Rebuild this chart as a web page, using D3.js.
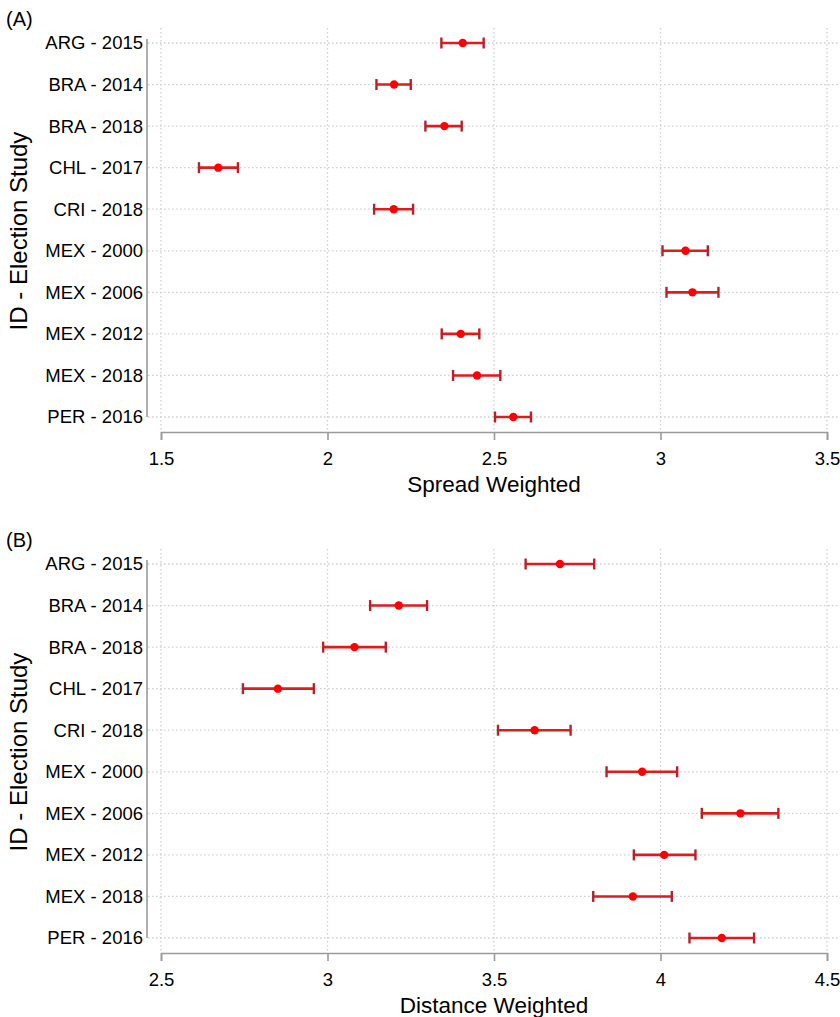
<!DOCTYPE html>
<html>
<head>
<meta charset="utf-8">
<script src="https://cdn.jsdelivr.net/npm/d3@7"></script>
<style>
  body { margin: 0; background: #fff; }
  svg { font-family: "Liberation Sans", Arial, sans-serif; }
</style>
</head>
<body>
<svg width="840" height="1017"></svg>
<script>
// election studies, top to bottom
const studies = ["ARG - 2015", "BRA - 2014", "BRA - 2018", "CHL - 2017", "CRI - 2018",
                 "MEX - 2000", "MEX - 2006", "MEX - 2012", "MEX - 2018", "PER - 2016"];

// panel A: spread weighted (estimate, lower, upper)
const spreadEst = [2.406, 2.200, 2.351, 1.672, 2.199, 3.075, 3.096, 2.400, 2.449, 2.558];
const spreadLo  = [2.342, 2.147, 2.294, 1.614, 2.140, 3.006, 3.018, 2.343, 2.377, 2.503];
const spreadHi  = [2.469, 2.250, 2.403, 1.731, 2.257, 3.142, 3.174, 2.456, 2.519, 2.611];
const spreadTicks = [1.5, 2, 2.5, 3, 3.5];

// panel B: distance weighted
const distEst = [3.698, 3.214, 3.081, 2.851, 3.622, 3.945, 4.240, 4.011, 3.917, 4.184];
const distLo  = [3.595, 3.128, 2.987, 2.746, 3.512, 3.838, 4.124, 3.920, 3.798, 4.087];
const distHi  = [3.801, 3.299, 3.175, 2.959, 3.730, 4.050, 4.354, 4.105, 4.034, 4.281];
const distTicks = [2.5, 3, 3.5, 4, 4.5];

const svg = d3.select("svg");

function panel(top, tag, title, ticks, est, lo, hi) {
    const g = svg.append("g").attr("transform", "translate(0," + top + ")");
    const x = d3.scaleLinear().domain([ticks[0], ticks[ticks.length - 1]]).range([161, 827]);
    const y = d3.scalePoint().domain(studies).range([43, 417]);
    const data = studies.map((s, i) => ({ s: s, est: est[i], lo: lo[i], hi: hi[i] }));

    // panel tag
    g.append("text").attr("x", 6).attr("y", 26)
        .style("font-size", "20px").attr("fill", "#000").text(tag);

    // dotted grid
    g.selectAll(".vgrid").data(ticks).enter().append("line")
        .attr("x1", d => x(d)).attr("x2", d => x(d))
        .attr("y1", 28).attr("y2", 432)
        .attr("stroke", "#cfcfcf").attr("stroke-width", 1.3)
        .attr("stroke-dasharray", "1.5,2.5");
    g.selectAll(".hgrid").data(studies).enter().append("line")
        .attr("x1", 148).attr("x2", 838)
        .attr("y1", d => y(d)).attr("y2", d => y(d))
        .attr("stroke", "#cfcfcf").attr("stroke-width", 1.3)
        .attr("stroke-dasharray", "1.5,2.5");

    // x axis
    const xa = g.append("g").attr("transform", "translate(0,432)")
        .call(d3.axisBottom(x).tickValues(ticks).tickFormat(d3.format("")).tickSize(8).tickPadding(12));
    xa.selectAll("path, line").attr("stroke", "#9a9a9a").attr("stroke-width", 1.6);
    xa.selectAll("text").style("font-size", "18.5px").attr("fill", "#000");

    // y axis
    const ya = g.append("g").attr("transform", "translate(147,0)")
        .call(d3.axisLeft(y).tickSize(0).tickPadding(4));
    ya.select(".domain").attr("stroke", "#9a9a9a").attr("stroke-width", 1.6)
        .attr("d", "M0,39V417");
    ya.selectAll("text").style("font-size", "18.5px").attr("fill", "#000");

    // axis titles
    g.append("text").attr("x", x((ticks[0] + ticks[ticks.length - 1]) / 2)).attr("y", 492)
        .attr("text-anchor", "middle").style("font-size", "22.5px").attr("fill", "#000")
        .text(title);
    g.append("text").attr("transform", "translate(27,231) rotate(-90)")
        .attr("text-anchor", "middle").style("font-size", "24px").attr("fill", "#000")
        .text("ID - Election Study");

    // error bars
    const bars = g.selectAll(".ci").data(data).enter().append("g");
    bars.append("line")
        .attr("x1", d => x(d.lo)).attr("x2", d => x(d.hi))
        .attr("y1", d => y(d.s)).attr("y2", d => y(d.s))
        .attr("stroke", "#dd1c1c").attr("stroke-width", 2.6);
    bars.selectAll(".cap").data(d => [[d.lo, d.s], [d.hi, d.s]]).enter().append("line")
        .attr("x1", d => x(d[0])).attr("x2", d => x(d[0]))
        .attr("y1", d => y(d[1]) - 5.5).attr("y2", d => y(d[1]) + 5.5)
        .attr("stroke", "#b8202a").attr("stroke-width", 2.4);
    bars.append("circle")
        .attr("cx", d => x(d.est)).attr("cy", d => y(d.s)).attr("r", 4.2)
        .attr("fill", "#ff0000");
}

panel(0, "(A)", "Spread Weighted", spreadTicks, spreadEst, spreadLo, spreadHi);
panel(521, "(B)", "Distance Weighted", distTicks, distEst, distLo, distHi);
</script>
</body>
</html>
